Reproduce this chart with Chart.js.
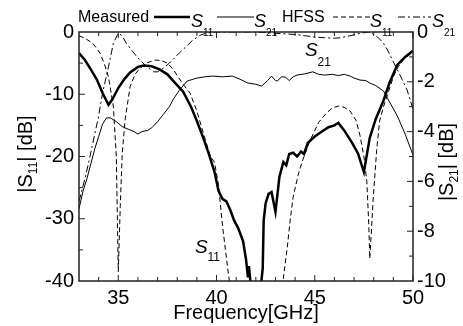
<!DOCTYPE html>
<html>
<head>
<meta charset="utf-8">
<script src="https://cdn.jsdelivr.net/npm/chart.js@4.4.1/dist/chart.umd.min.js"></script>
<style>
  html, body { margin: 0; padding: 0; background: #fff; }
  #wrap { width: 463px; height: 326px; }
</style>
</head>
<body>
<div id="wrap"><canvas id="c"></canvas></div>
<script>
// ---- data ----
const freqMeasS11 = [33.0, 33.3, 33.6, 33.9, 34.2, 34.5, 34.7, 35.0, 35.3, 35.6, 36.0, 36.3, 36.7, 37.1, 37.5, 37.9, 38.3, 38.7, 39.0, 39.3, 39.6, 39.9, 40.1, 40.3, 40.5, 40.7, 40.9, 41.1, 41.35, 41.5, 41.6, 41.65, 41.75, 42.0, 42.25, 42.35, 42.4, 42.5, 42.65, 42.8, 43.0, 43.2, 43.4, 43.55, 43.7, 43.9, 44.1, 44.3, 44.45, 44.65, 45.0, 45.4, 45.7, 46.0, 46.2, 46.5, 46.9, 47.2, 47.5, 47.8, 48.1, 48.5, 48.8, 49.2, 49.6, 50.0];
const magMeasS11  = [-3.4, -4.5, -6.0, -7.6, -9.8, -11.7, -10.8, -9.0, -7.6, -6.5, -5.6, -5.4, -5.5, -6.0, -6.8, -8.2, -9.6, -12.0, -14.3, -16.8, -19.5, -22.5, -25.5, -26.8, -27.2, -28.6, -30.3, -31.5, -33.6, -36.5, -39.4, -37.6, -41, -43, -41, -38, -30.2, -27.5, -26.0, -25.7, -28.9, -23.3, -20.9, -21.4, -19.6, -19.4, -20.0, -19.2, -19.6, -17.8, -16.8, -15.9, -15.3, -15.0, -14.6, -15.8, -17.8, -19.5, -22.5, -17.0, -14.0, -11.0, -8.2, -5.3, -4.0, -3.0];

const freqMeasS21 = [33.0, 33.2, 33.4, 33.6, 33.8, 34.0, 34.2, 34.4, 34.6, 34.9, 35.2, 35.5, 35.8, 36.0, 36.2, 36.5, 36.7, 37.0, 37.3, 37.6, 37.8, 38.1, 38.5, 38.8, 39.0, 39.4, 39.8, 40.3, 40.8, 41.2, 41.6, 42.0, 42.3, 42.6, 42.8, 43.0, 43.1, 43.3, 43.5, 43.7, 43.9, 44.1, 44.5, 44.9, 45.2, 45.5, 45.9, 46.2, 46.5, 46.8, 47.0, 47.3, 47.6, 47.8, 48.1, 48.5, 48.8, 49.2, 49.6, 50.0];
const magMeasS21  = [-7.1, -6.4, -5.9, -5.3, -4.7, -4.2, -3.7, -3.45, -3.45, -3.6, -3.8, -3.9, -4.0, -4.1, -4.0, -3.95, -3.85, -3.6, -3.3, -3.0, -2.7, -2.35, -1.97, -1.9, -1.85, -1.8, -1.77, -1.8, -1.77, -1.9, -2.05, -2.1, -2.17, -1.95, -1.77, -1.95, -1.97, -1.8, -1.81, -1.95, -1.8, -1.73, -1.68, -1.6, -1.7, -1.73, -1.7, -1.75, -1.7, -1.77, -1.85, -1.93, -1.95, -2.05, -2.15, -2.37, -2.8, -3.37, -4.1, -4.94];

const freqSimS11 = [33.0, 33.3, 33.7, 34.07, 34.3, 34.5, 34.75, 34.9, 35.0, 35.1, 35.2, 35.35, 35.6, 35.85, 36.1, 36.5, 36.9, 37.2, 37.5, 37.8, 38.0, 38.3, 38.65, 39.0, 39.4, 39.67, 39.9, 40.1, 40.3, 40.6, 40.8, 41.5, 42.0, 43.0, 43.4, 43.6, 43.75, 43.9, 44.15, 44.35, 44.75, 45.2, 45.6, 45.9, 46.2, 46.5, 46.8, 47.1, 47.3, 47.5, 47.65, 47.75, 47.8, 47.9, 47.97, 48.15, 48.3, 48.5, 48.7, 49.0, 49.2, 49.5, 49.7, 50.0];
const magSimS11  = [-0.6, -1.0, -1.8, -3.4, -5.2, -7.2, -12, -20, -38.5, -28, -19.5, -14, -8.8, -6.8, -5.8, -4.9, -4.5, -4.6, -5.0, -6.0, -7.0, -8.4, -9.8, -12.7, -17, -19.8, -21, -24.5, -31, -38.8, -43, -48, -50, -45, -39.6, -34.6, -30.2, -26.5, -23, -20.9, -17.5, -14.5, -13, -12.2, -11.9, -12.1, -12.7, -14.2, -16.6, -20, -24, -31, -36.4, -31, -27, -19, -14.3, -12, -10.1, -7.2, -5.8, -4.5, -3.9, -3.3];

const freqSimS21 = [33.0, 33.3, 33.56, 33.8, 33.97, 34.2, 34.5, 34.75, 35.0, 35.2, 35.4, 35.7, 35.95, 36.2, 36.46, 36.8, 37.0, 37.3, 37.6, 38.1, 38.5, 38.8, 39.2, 39.5, 40.0, 42.0, 43.0, 44.0, 44.5, 45.0, 45.5, 46.0, 46.3, 46.8, 47.3, 47.8, 48.2, 48.5, 48.7, 49.0, 49.2, 49.5, 49.7, 50.0];
const magSimS21  = [-6.8, -5.9, -5.0, -4.1, -3.5, -2.45, -1.4, -0.45, -0.05, -0.15, -0.45, -0.75, -1.0, -1.2, -1.4, -1.6, -1.6, -1.45, -1.25, -0.85, -0.55, -0.32, -0.12, -0.04, 0, 0, -0.05, -0.1, -0.15, -0.2, -0.23, -0.25, -0.23, -0.15, -0.05, 0, -0.2, -0.45, -0.72, -1.2, -1.5, -2.0, -2.33, -3.1];

const xTicks     = [35, 40, 45, 50];
const leftTicks  = [0, -10, -20, -30, -40];
const rightTicks = [0, -2, -4, -6, -8, -10];

const pts = (xs, ys) => xs.map((x, i) => ({ x, y: ys[i] }));
const FONT = '"Liberation Sans", Arial, sans-serif';

// draws a run of text pieces [{t, size, italic, dy}] starting at x, baseline y
function drawRich(ctx, parts, x, y, align) {
    const fontOf = p => `${p.italic ? 'italic ' : ''}${p.size}px ${FONT}`;
    let w = 0;
    parts.forEach(p => { ctx.font = fontOf(p); w += ctx.measureText(p.t).width; });
    let cx = align === 'center' ? x - w / 2 : x;
    ctx.textAlign = 'left';
    ctx.textBaseline = 'alphabetic';
    parts.forEach(p => {
        ctx.font = fontOf(p);
        ctx.fillText(p.t, cx, y + (p.dy || 0));
        cx += ctx.measureText(p.t).width;
    });
}

const sketch = {
    id: 'sketch',
    afterDraw(chart) {
        const { ctx, chartArea: a, scales } = chart;
        const sx = scales.x, sl = scales.y, sr = scales.y2;
        ctx.save();
        ctx.strokeStyle = '#222';
        ctx.fillStyle = '#000';

        // frame
        ctx.lineWidth = 1.5;
        ctx.strokeRect(a.left, a.top, a.right - a.left, a.bottom - a.top);

        // inward ticks
        ctx.lineWidth = 1;
        ctx.beginPath();
        for (let f = 34; f <= 50; f++) {
            const px = sx.getPixelForValue(f), len = f % 5 === 0 ? 6 : 4;
            ctx.moveTo(px, a.bottom); ctx.lineTo(px, a.bottom - len);
            ctx.moveTo(px, a.top);    ctx.lineTo(px, a.top + len);
        }
        for (let v = -35; v <= -5; v += 5) {
            const py = sl.getPixelForValue(v), len = v % 10 === 0 ? 6 : 4;
            ctx.moveTo(a.left, py); ctx.lineTo(a.left + len, py);
        }
        for (let v = -9; v <= -1; v++) {
            const py = sr.getPixelForValue(v), len = v % 2 === 0 ? 6 : 4;
            ctx.moveTo(a.right, py); ctx.lineTo(a.right - len, py);
        }
        ctx.stroke();

        // legend
        drawRich(ctx, [{ t: 'Measured', size: 16 }], 78, 22);
        const sample = (x0, x1, w, dash) => {
            ctx.save(); ctx.lineWidth = w; ctx.setLineDash(dash); ctx.strokeStyle = '#000';
            ctx.beginPath(); ctx.moveTo(x0, 17); ctx.lineTo(x1, 17); ctx.stroke(); ctx.restore();
        };
        sample(154, 190, 2.5, []);
        drawRich(ctx, [{ t: 'S', size: 18, italic: true }, { t: '11', size: 10, dy: 9 }], 191, 27);
        sample(217, 254, 1, []);
        drawRich(ctx, [{ t: 'S', size: 18, italic: true }, { t: '21', size: 10, dy: 9 }], 254, 27);
        drawRich(ctx, [{ t: 'HFSS', size: 16 }], 282, 22);
        sample(333, 370, 1, [5, 3]);
        drawRich(ctx, [{ t: 'S', size: 18, italic: true }, { t: '11', size: 10, dy: 9 }], 370, 27);
        sample(398, 431, 1, [7, 3, 2, 3]);
        drawRich(ctx, [{ t: 'S', size: 18, italic: true }, { t: '21', size: 10, dy: 9 }], 432, 27);

        // curve labels, anchored on data coordinates
        drawRich(ctx, [{ t: 'S', size: 19, italic: true }, { t: '21', size: 12, dy: 10 }],
                 sx.getPixelForValue(44.5), sr.getPixelForValue(-0.96));
        drawRich(ctx, [{ t: 'S', size: 19, italic: true }, { t: '11', size: 12, dy: 8 }],
                 sx.getPixelForValue(38.9), sl.getPixelForValue(-35.5));

        // axis titles
        drawRich(ctx, [{ t: 'Frequency[GHz]', size: 20 }], (a.left + a.right) / 2, 319, 'center');

        ctx.save();
        ctx.translate(32, 154); ctx.rotate(-Math.PI / 2);
        drawRich(ctx, [{ t: '|S', size: 20 }, { t: '11', size: 12, dy: 5 }, { t: '| [dB]', size: 20 }], 0, 0, 'center');
        ctx.restore();

        ctx.save();
        ctx.translate(453, 162); ctx.rotate(-Math.PI / 2);
        drawRich(ctx, [{ t: '|S', size: 20 }, { t: '21', size: 12, dy: 5 }, { t: '| [dB]', size: 20 }], 0, 0, 'center');
        ctx.restore();

        ctx.restore();
    }
};

const tickFont = { family: FONT, size: 20 };

new Chart(document.getElementById('c'), {
    type: 'line',
    data: {
        datasets: [
            { label: 'Measured S11', data: pts(freqMeasS11, magMeasS11), yAxisID: 'y',
              borderColor: '#000', borderWidth: 2.5 },
            { label: 'Measured S21', data: pts(freqMeasS21, magMeasS21), yAxisID: 'y2',
              borderColor: '#000', borderWidth: 1 },
            { label: 'HFSS S11', data: pts(freqSimS11, magSimS11), yAxisID: 'y',
              borderColor: '#000', borderWidth: 1, borderDash: [5, 3] },
            { label: 'HFSS S21', data: pts(freqSimS21, magSimS21), yAxisID: 'y2',
              borderColor: '#000', borderWidth: 1, borderDash: [7, 3, 2, 3] },
        ]
    },
    options: {
        responsive: true,
        maintainAspectRatio: false,
        animation: false,
        layout: { padding: { top: 32, left: 0, right: 0, bottom: 0 } },
        elements: { point: { radius: 0 }, line: { tension: 0, fill: false } },
        scales: {
            x: {
                type: 'linear', min: 33, max: 50,
                grid: { display: false, drawTicks: false },
                border: { display: false },
                ticks: { font: tickFont, color: '#000', padding: 5, maxRotation: 0 },
                afterBuildTicks(scale) { scale.ticks = xTicks.map(v => ({ value: v })); },
                afterFit(scale) { scale.height = 45; },
            },
            y: {
                position: 'left', min: -40, max: 0,
                grid: { display: false, drawTicks: false },
                border: { display: false },
                ticks: { font: tickFont, color: '#000', padding: 5 },
                afterBuildTicks(scale) { scale.ticks = leftTicks.map(v => ({ value: v })); },
                afterFit(scale) { scale.width = 79; },
            },
            y2: {
                position: 'right', min: -10, max: 0,
                grid: { display: false, drawTicks: false },
                border: { display: false },
                ticks: { font: tickFont, color: '#000', padding: 4 },
                afterBuildTicks(scale) { scale.ticks = rightTicks.map(v => ({ value: v })); },
                afterFit(scale) { scale.width = 50; },
            },
        },
        plugins: { legend: { display: false }, tooltip: { enabled: false } },
    },
    plugins: [sketch],
});
</script>
</body>
</html>
